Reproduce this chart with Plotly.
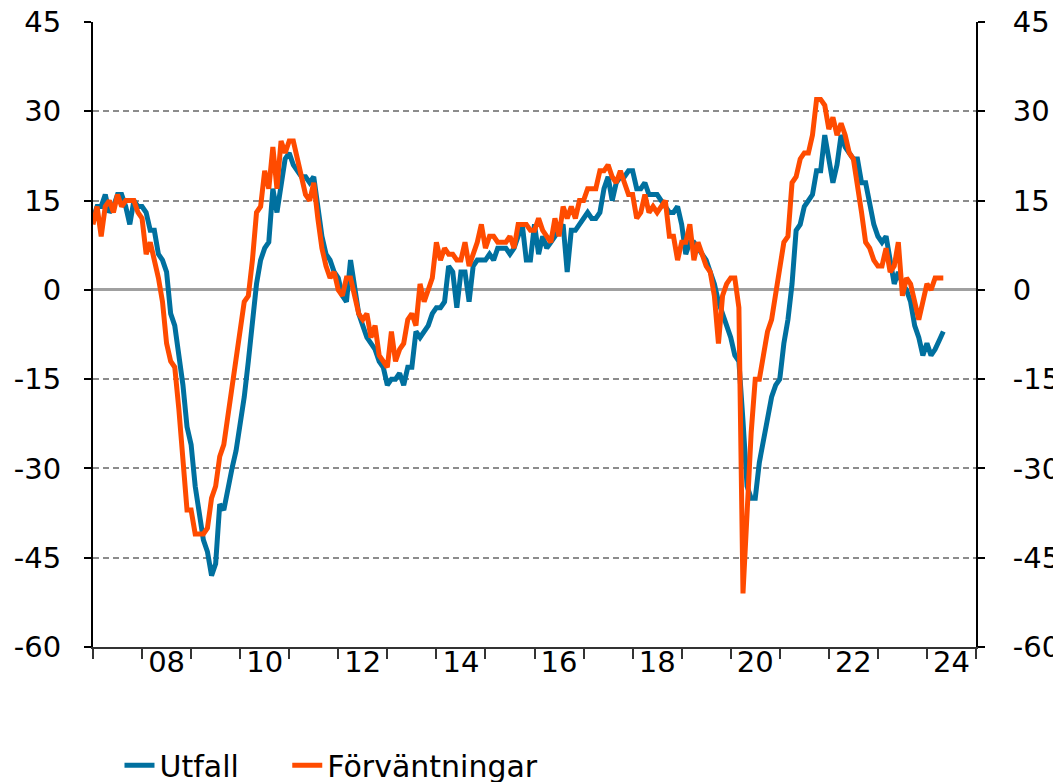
import plotly.graph_objects as go

# Monthly values, Jan 2007 - May 2024
utfall = [
    12, 14, 14, 16, 13, 14, 16, 16, 14, 11, 15, 14,          # 2007
    14, 13, 10, 10, 6, 5, 3, -4, -6, -11, -16, -23,          # 2008
    -26, -33, -37, -42, -44, -48, -46, -36, -37, -33, -30, -27,  # 2009
    -23, -18, -12, -6, 1, 5, 7, 8, 17, 13, 18, 22,           # 2010
    23, 21, 20, 19, 19, 18, 19, 14, 9, 6, 5, 3,              # 2011
    2, -1, -2, 5, 1, -4, -6, -8, -9, -10, -12, -13,          # 2012
    -16, -15, -15, -14, -16, -13, -13, -7, -8, -7, -6, -4,   # 2013
    -3, -3, -2, 4, 3, -3, 3, 3, -2, 4, 5, 5,                 # 2014
    5, 6, 5, 7, 7, 7, 6, 7, 9, 11, 5, 5,                     # 2015
    11, 6, 9, 7, 8, 9, 10, 11, 3, 10, 10, 11,                # 2016
    12, 13, 12, 12, 13, 17, 19, 15, 18, 19, 19, 20,          # 2017
    20, 17, 17, 18, 16, 16, 16, 15, 14, 13, 13, 14,          # 2018
    11, 6, 8, 8, 7, 6, 5, 3, 1, -2, -4, -6,                  # 2019
    -8, -11, -12, -22, -33, -35, -35, -29, -25, -21, -18, -16,  # 2020
    -15, -9, -5, 1, 10, 11, 14, 15, 16, 20, 20, 26,          # 2021
    22, 18, 21, 26, 24, 23, 22, 22, 18, 18, 14, 11,          # 2022
    9, 8, 9, 5, 1, 3, 1, 0, -2, -6, -8, -11,                 # 2023
    -9, -11, -10, -8.5, -7,                                  # 2024
]

forvantningar = [
    11, 14, 9, 14, 15, 13, 16, 14, 15, 15, 15, 13,           # 2007
    12, 6, 8, 5, 2, -2, -9, -12, -13, -20, -28, -37,         # 2008
    -37, -41, -41, -41, -40, -35, -33, -28, -26, -21, -16, -11,  # 2009
    -6, -2, -1, 5, 13, 14, 20, 17, 24, 17, 25, 23,           # 2010
    25, 25, 22, 19, 16, 15, 18, 12, 7, 4, 2, 3,              # 2011
    0, -1, 2, 2, -1, -4, -5, -4, -8, -6, -11, -12,           # 2012
    -13, -7, -12, -10, -9, -5, -4, -6, 1, -2, 0, 2,          # 2013
    8, 5, 7, 6, 6, 5, 5, 8, 4, 6, 8, 11,                     # 2014
    7, 9, 9, 8, 8, 8, 9, 7, 11, 11, 11, 10,                  # 2015
    10, 12, 10, 9, 8, 12, 9, 14, 12, 14, 12, 15,             # 2016
    15, 17, 17, 17, 20, 20, 21, 19, 18, 20, 18, 16,          # 2017
    16, 12, 13, 16, 13, 14, 13, 14, 15, 9, 9, 5,             # 2018
    8, 8, 11, 5, 8, 6, 4, 3, -1, -9, -1, 1,                  # 2019
    2, 2, -3, -51, -36, -24, -15, -15, -11, -7, -5, -1,      # 2020
    3, 8, 9, 18, 19, 22, 23, 23, 26, 32, 32, 31,             # 2021
    27, 29, 26, 28, 26, 23, 22, 18, 13, 8, 7, 5,             # 2022
    4, 4, 7, 3, 4, 8, -1, 2, 1, -2, -5, -2,                  # 2023
    1, 0, 2, 2, 2,                                           # 2024
]

start_year = 2007
x_vals = [start_year + i / 12 for i in range(len(utfall))]

year_ticks = list(range(2007, 2026))
label_years = list(range(2008, 2025, 2))
label_pos = [y + 0.5 for y in label_years]
label_text = [f"{y % 100:02d}" for y in label_years]
y_ticks = list(range(-60, 46, 15))
y_text = [str(v) for v in y_ticks]

BLUE = "#00709F"
ORANGE = "#FF4B00"
FONT = "DejaVu Sans"
FSIZE = 29
LEG_SIZE = 30

fig = go.Figure()
fig.add_trace(go.Scatter(x=x_vals, y=utfall, name="Utfall", mode="lines",
                         line=dict(color=BLUE, width=5), yaxis="y", legend="legend"))
fig.add_trace(go.Scatter(x=x_vals, y=forvantningar, name="Förväntningar", mode="lines",
                         line=dict(color=ORANGE, width=5), yaxis="y2", legend="legend2"))

yax_common = dict(range=[-60, 45], tickmode="array", tickvals=y_ticks, ticktext=y_text,
                  ticks="outside", ticklen=7, tickwidth=1.5, tickcolor="black",
                  showline=True, linecolor="black", linewidth=2, automargin=False,
                  ticklabeloverflow="allow",
                  tickfont=dict(family=FONT, size=FSIZE, color="black"))

leg_common = dict(orientation="h", xanchor="left", y=-0.189, yanchor="middle",
                  font=dict(family=FONT, size=LEG_SIZE, color="black"),
                  bgcolor="rgba(0,0,0,0)")

fig.update_layout(
    width=1061, height=782,
    margin=dict(l=85, r=93, t=14, b=143, autoexpand=False),
    paper_bgcolor="white", plot_bgcolor="white",
    font=dict(family=FONT, size=FSIZE, color="black"),
    xaxis=dict(range=[2007, 2025], tickmode="array", tickvals=label_pos, ticktext=label_text,
               ticks="", showgrid=False, zeroline=False, showline=True, automargin=False,
               linecolor="#333333", linewidth=2, ticklabelstandoff=-12,
               tickfont=dict(family=FONT, size=FSIZE, color="black"),
               minor=dict(tickmode="array", tickvals=year_ticks, ticks="outside", ticklen=10,
                          tickwidth=1.5, tickcolor="#333333", showgrid=False)),
    yaxis=dict(**yax_common, side="left", showgrid=True, gridcolor="#8C8C8C",
               griddash="6px,4px", gridwidth=1.5, zeroline=True,
               zerolinecolor="#A0A0A0", zerolinewidth=3, ticklabelstandoff=17),
    yaxis2=dict(**yax_common, side="right", overlaying="y", showgrid=False,
                zeroline=False, ticklabelstandoff=22),
    legend=dict(**leg_common, x=0.030),
    legend2=dict(**leg_common, x=0.2200),
    showlegend=True,
)

fig.write_html("out.html")
